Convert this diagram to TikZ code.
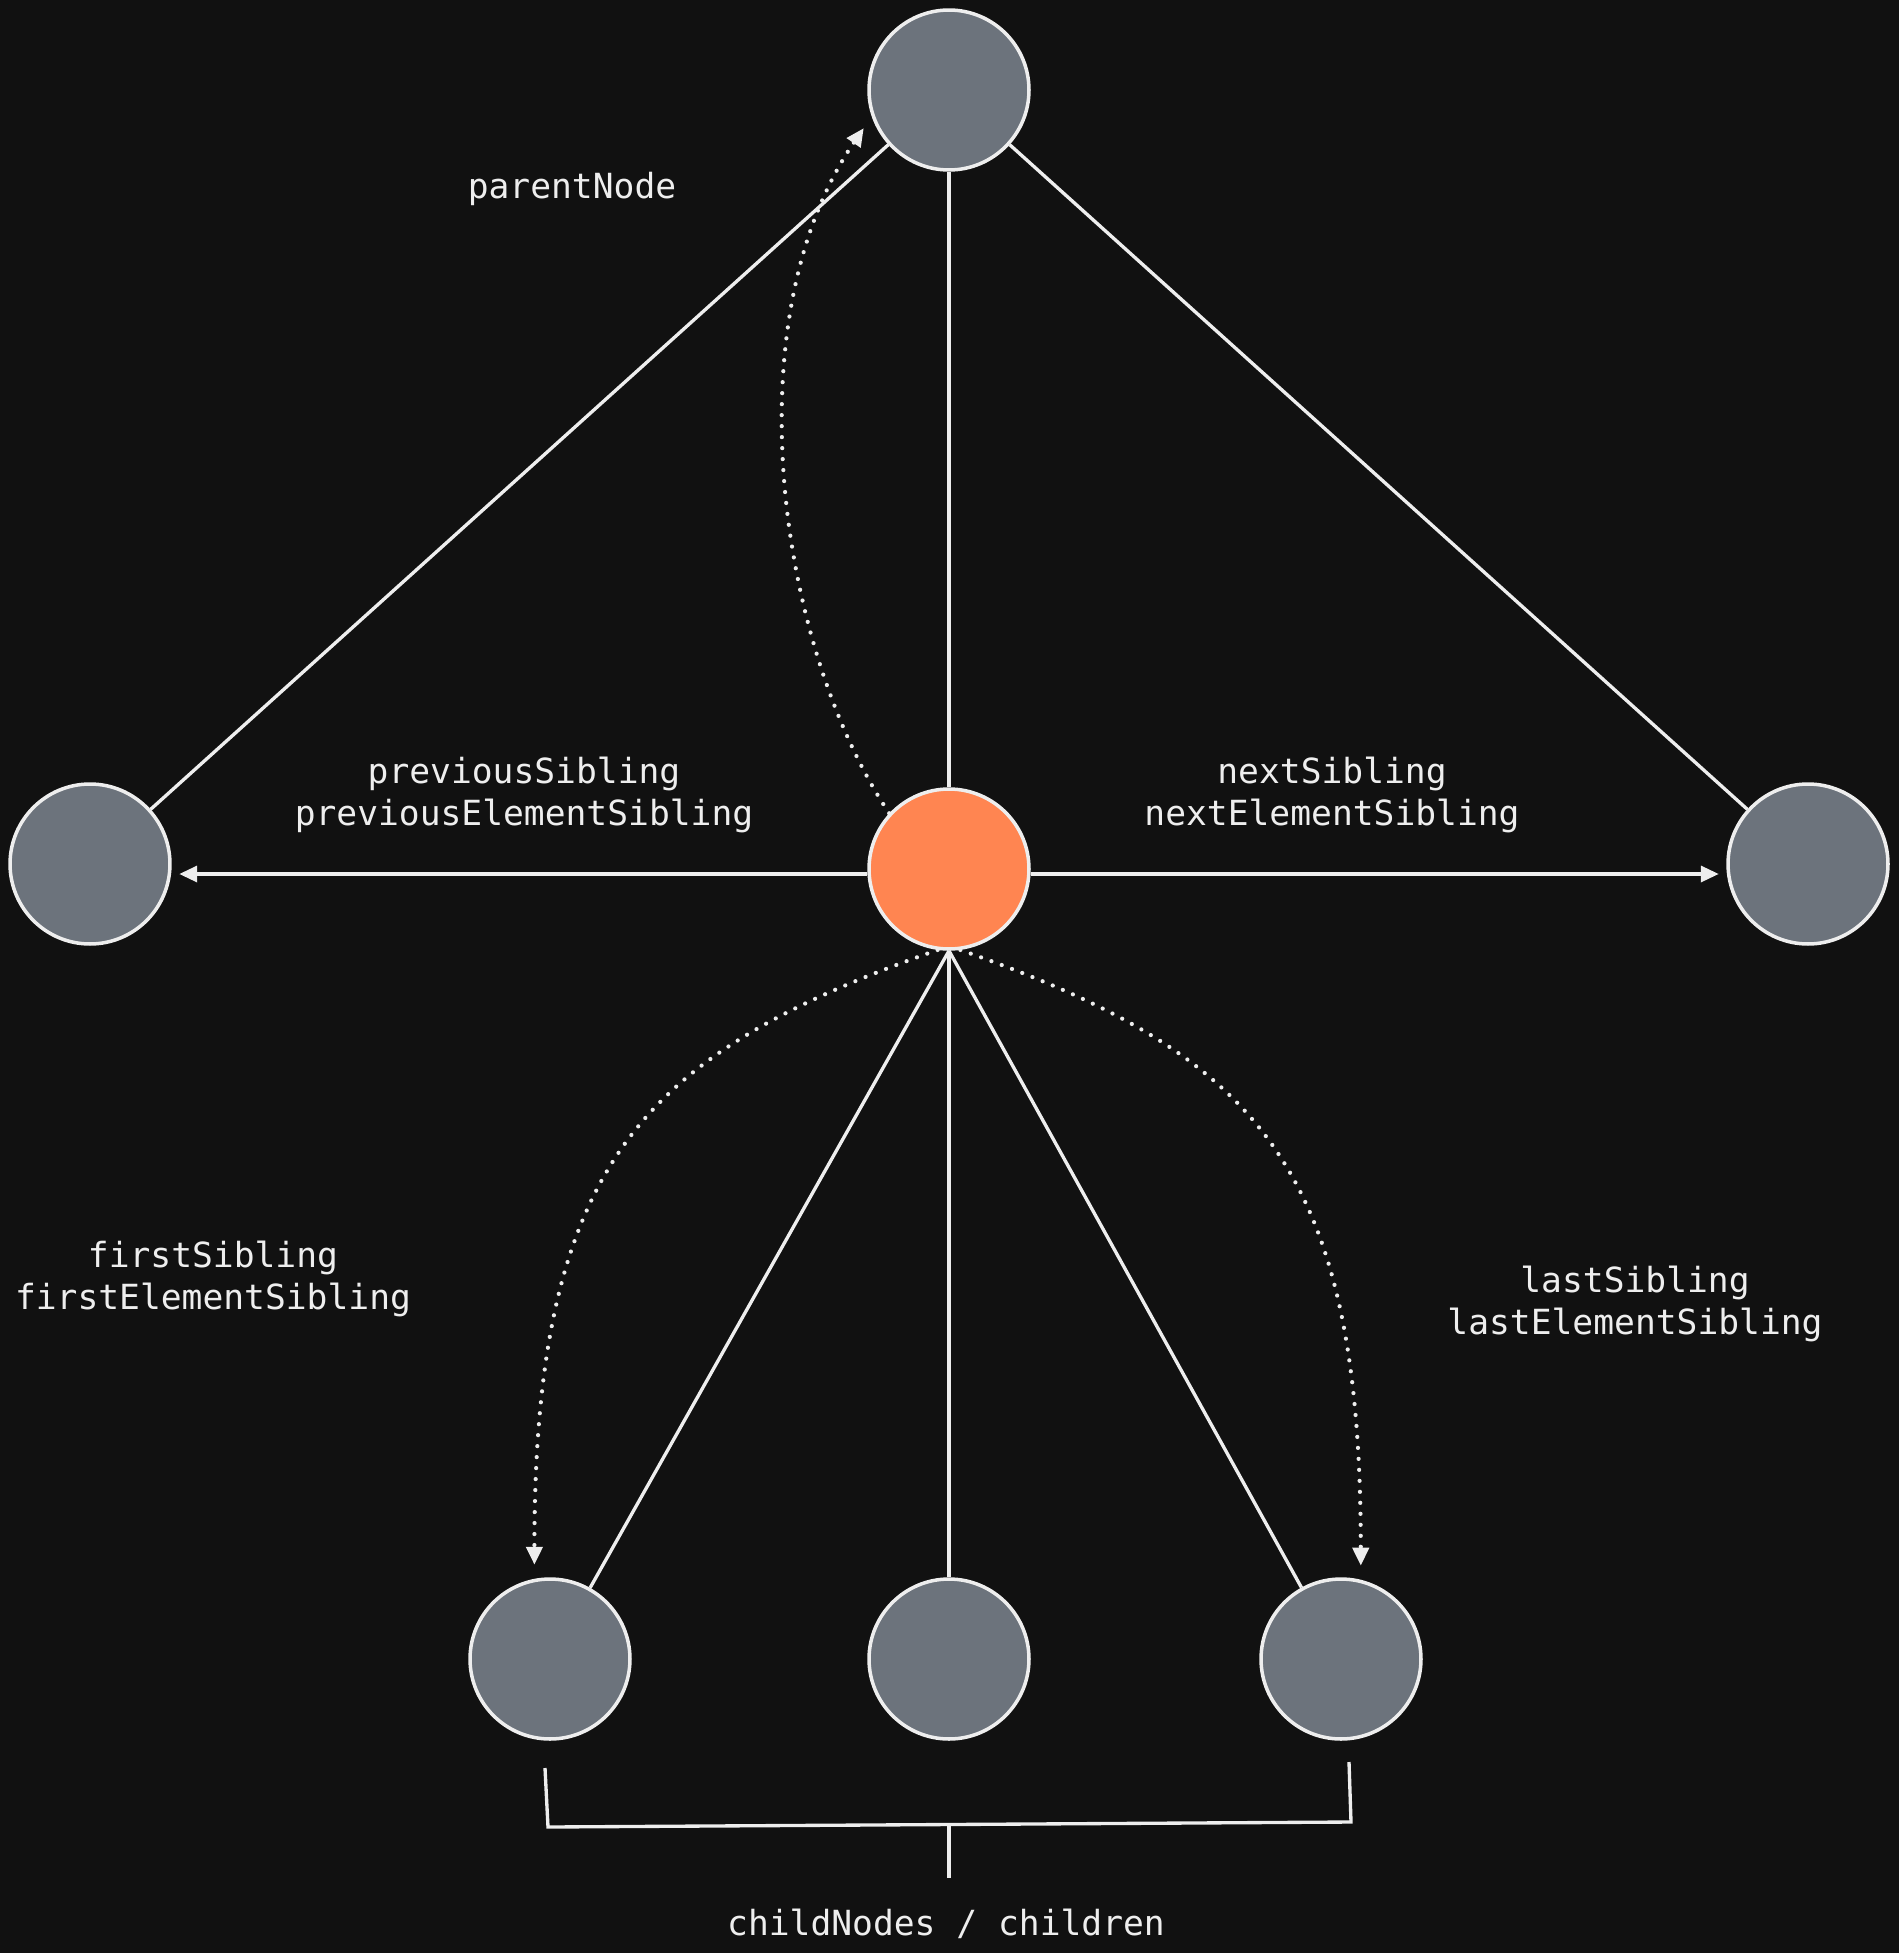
\documentclass[tikz,border=0pt]{standalone}
\usepackage{fontspec}
\setmonofont{DejaVu Sans Mono}
\usepackage{xcolor}
\usetikzlibrary{arrows.meta,calc,positioning}
\definecolor{bgc}{HTML}{111111}
\definecolor{dnode}{HTML}{6C737C}
\definecolor{cnode}{HTML}{FF8551}
\definecolor{ink}{HTML}{EEEEEE}
\begin{document}
\begin{tikzpicture}[x=0.02cm,y=-0.02cm,>={Triangle[length=0.36cm,width=0.32cm]},
  dom/.style={circle,draw=ink,line width=2pt,fill=dnode,minimum size=3.2cm,inner sep=0pt},
  link/.style={draw=ink,line width=1.9pt},
  hop/.style={draw=ink,line width=2.4pt,line cap=round,dash pattern=on 0pt off 0.22cm},
  lbl/.style={text=ink,font=\ttfamily\fontsize{19.7}{24}\selectfont,align=center}]
\fill[bgc] (0,0) rectangle (1899,1953); \useasboundingbox (0,0) rectangle (1899,1953);
% tree nodes
\node[dom] (par) at (949,90) {}; \node[dom] (prev) at (90,864) {}; \node[dom] (next) at (1808,864) {};
\node[dom,fill=cnode] (cur) at (949,869) {};
\node[dom] (kid1) at (550,1659) {}; \node[dom] (kid2) at (949,1659) {}; \node[dom] (kid3) at (1341,1659) {};
% solid links
\draw[link] (par) -- (prev); \draw[link] (par) -- (next); \draw[link] (par) -- (cur);
\draw[link] (cur.south) -- (kid1); \draw[link] (cur.south) -- (kid2); \draw[link] (cur.south) -- (kid3);
\draw[link,->,shorten >=0.15cm] ($(cur.west)+(0,5)$) -- (prev.east |- {$(cur.west)+(0,5)$});
\draw[link,->,shorten >=0.15cm] ($(cur.east)+(0,5)$) -- (next.west |- {$(cur.east)+(0,5)$});
% dotted hops
\draw[hop,->,shorten >=0.28cm] (cur.137) .. controls +(-112,-167) and +(-139,202) .. (par.199);
\draw[hop,->,shorten >=0.28cm] (cur.262) .. controls +(-296,104) and +(0,-416) .. (kid1.101);
\draw[hop,->,shorten >=0.28cm] (cur.278) .. controls +(296,104) and +(0,-416) .. (kid3.76);
% bracket under children
\coordinate (bl) at (545,1768); \coordinate (br) at (1349,1762); \coordinate (bs) at (949,1825);
\draw[link] (bl) -- (548,1827) -- (1351,1822) -- (br); \draw[link] (bs) -- (949,1878);
% labels
\node[lbl] (lpar) at (572,189) {parentNode};
\node[lbl] (lprev) at (524,795) {previousSibling\\previousElementSibling};
\node[lbl] (lnext) at (1332,795) {nextSibling\\nextElementSibling};
\node[lbl] (lfirst) at (213,1279) {firstSibling\\firstElementSibling};
\node[lbl] (llast) at (1635,1304) {lastSibling\\lastElementSibling};
\node[lbl] (lkids) at (946,1924) {childNodes / children};
\end{tikzpicture}
\end{document}
